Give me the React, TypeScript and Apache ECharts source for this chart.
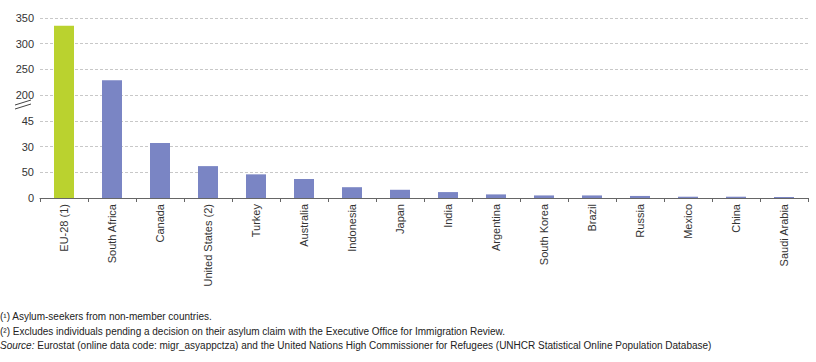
import React, { useEffect, useRef } from "react";
import * as echarts from "echarts";

const categories = [
  "EU-28 (1)", "South Africa", "Canada", "United States (2)", "Turkey", "Australia",
  "Indonesia", "Japan", "India", "Argentina", "South Korea", "Brazil", "Russia",
  "Mexico", "China", "Saudi Arabia",
];
// values expressed on the chart's (broken) linear display scale
const values = [335, 229, 107, 62, 46, 37, 21, 16, 11.5, 7, 5, 5, 4, 2.5, 2.5, 2];
const tickLabels = ["0", "50", "30", "45", "200", "250", "300", "350"];
const footnotes = [
  "(¹) Asylum-seekers from non-member countries.",
  "(²) Excludes individuals pending a decision on their asylum claim with the Executive Office for Immigration Review.",
];
const sourceText =
  " Eurostat (online data code: migr_asyappctza) and the United Nations High Commissioner for Refugees (UNHCR Statistical Online Population Database)";

export default function App() {
  const ref = useRef<HTMLDivElement>(null);
  useEffect(() => {
    if (!ref.current) return;
    const chart = echarts.init(ref.current, null, { renderer: "svg" });
    const font = "'Liberation Sans', Arial, sans-serif";
    chart.setOption({
      animation: false,
      grid: { left: 40, right: 8, top: 18, bottom: 164, containLabel: false },
      xAxis: {
        type: "category",
        data: categories,
        axisLine: { lineStyle: { color: "#666", width: 1 } },
        axisTick: { show: true, length: 4, lineStyle: { color: "#666" } },
        axisLabel: {
          rotate: 90,
          interval: 0,
          color: "#333",
          fontSize: 11,
          fontFamily: font,
          margin: 6,
        },
      },
      yAxis: {
        type: "value",
        min: 0,
        max: 350,
        interval: 50,
        axisLine: { show: false },
        axisTick: { show: false },
        splitLine: { lineStyle: { color: "#c8c8c8", type: [3, 2], width: 1 } },
        axisLabel: {
          color: "#333",
          fontSize: 11,
          fontFamily: font,
          margin: 6,
          formatter: (v: number) => tickLabels[Math.round(v / 50)] ?? "",
        },
      },
      series: [
        {
          type: "bar",
          data: values.map((v, i) => ({
            value: v,
            itemStyle: { color: i === 0 ? "#bad22f" : "#7a85c4" },
          })),
          barWidth: 20,
        },
      ],
      graphic: [
        { type: "line", shape: { x1: 15, y1: 105, x2: 31, y2: 100 }, style: { stroke: "#444", lineWidth: 1 } },
        { type: "line", shape: { x1: 15, y1: 109, x2: 31, y2: 104 }, style: { stroke: "#444", lineWidth: 1 } },
        {
          type: "text", left: 0, top: 311,
          style: { text: footnotes[0], fontSize: 10, fontFamily: font, fill: "#222" },
        },
        {
          type: "text", left: 0, top: 326,
          style: { text: footnotes[1], fontSize: 10, fontFamily: font, fill: "#222" },
        },
        {
          type: "text", left: 0, top: 340,
          style: {
            rich: {
              i: { fontStyle: "italic", fontSize: 10, fontFamily: font, fill: "#222" },
              n: { fontSize: 10, fontFamily: font, fill: "#222" },
            },
            text: "{i|Source:}{n|" + sourceText + "}",
          },
        },
      ],
    });
    return () => chart.dispose();
  }, []);
  return (
    <div
      ref={ref}
      style={{ position: "fixed", left: 0, top: 0, width: 816, height: 362, background: "#fff" }}
    />
  );
}
